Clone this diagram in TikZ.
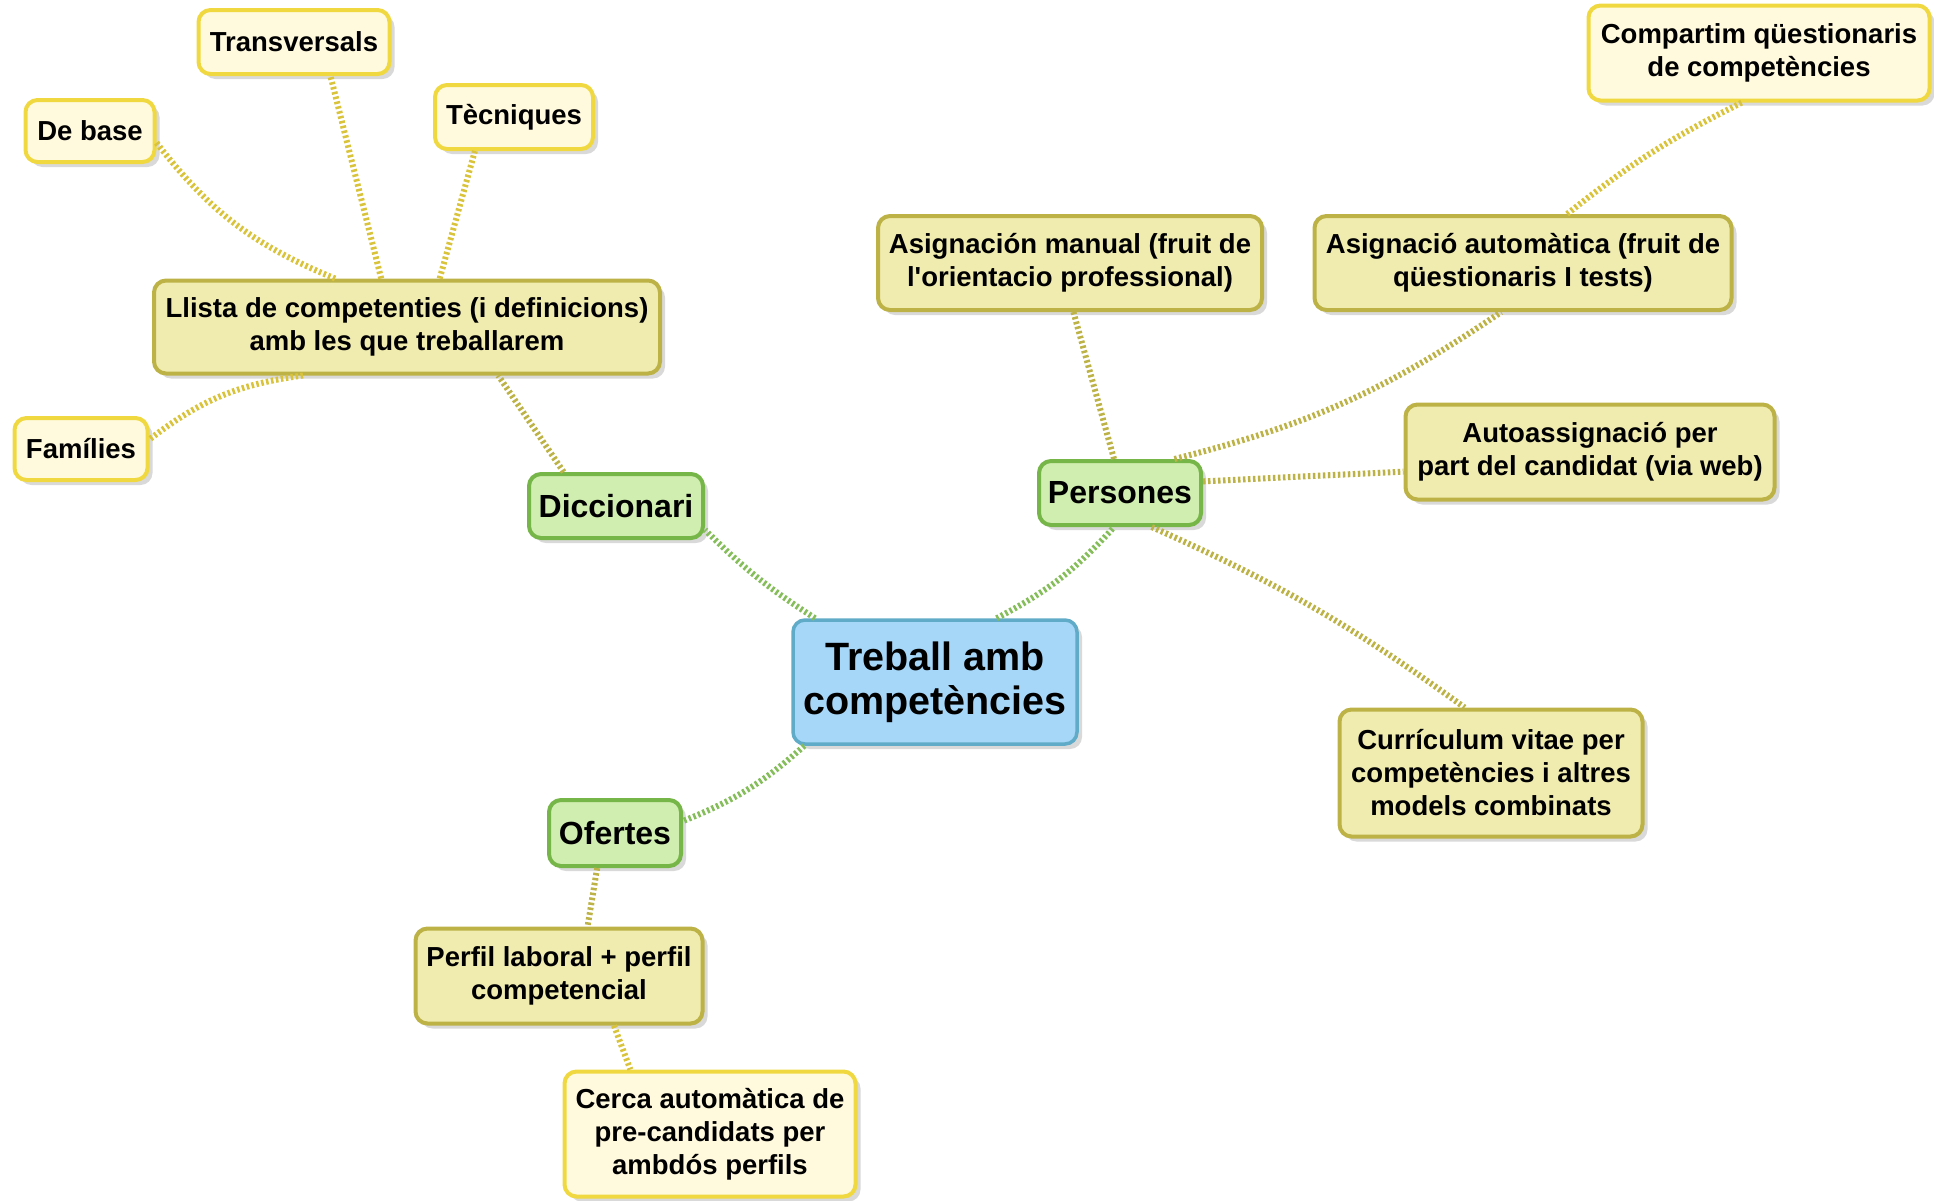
\documentclass[tikz,border=0pt]{standalone}
\usepackage{fontspec}
\setmainfont{Liberation Sans}
\usetikzlibrary{shapes,positioning,calc,shadows}
\definecolor{rootfill}{RGB}{166,215,248}
\definecolor{rootline}{RGB}{96,172,200}
\definecolor{topicfill}{RGB}{208,238,176}
\definecolor{topicline}{RGB}{118,182,72}
\definecolor{subfill}{RGB}{240,236,176}
\definecolor{subline}{RGB}{188,178,70}
\definecolor{leaffill}{RGB}{255,250,222}
\definecolor{leafline}{RGB}{240,217,64}

\begin{document}
\begin{tikzpicture}[x=1pt, y=-1pt,
    box/.style={draw, rectangle, rounded corners=12pt, line width=4pt, align=center, inner sep=0pt,
        font=\bfseries\fontsize{27.5}{33}\selectfont,
        drop shadow={opacity=0.3, shadow xshift=5pt, shadow yshift=-5pt}},
    root/.style={box, fill=rootfill, draw=rootline, line width=3.5pt, font=\bfseries\fontsize{39.5}{44}\selectfont},
    topic/.style={box, fill=topicfill, draw=topicline, font=\bfseries\fontsize{32}{36}\selectfont},
    sub/.style={box, fill=subfill, draw=subline},
    leaf/.style={box, fill=leaffill, draw=leafline},
    link/.style={line width=6pt, dash pattern=on 2.5pt off 2.5pt},
    tlink/.style={link, draw=topicline!90},
    slink/.style={link, draw=subline},
    llink/.style={link, draw=leafline!90!black}]
    \useasboundingbox (0,0) rectangle (1934,1200);

    % centre
    \node[root, minimum width=284pt, minimum height=124pt] (root) at (935,682) {Treball amb\\competències};

    % branques
    \node[topic, minimum width=174pt, minimum height=64pt] (dicc) at (616,506) {Diccionari};
    \node[topic, minimum width=162pt, minimum height=64pt] (pers) at (1120,493) {Persones};
    \node[topic, minimum width=132pt, minimum height=66pt] (ofer) at (615,833) {Ofertes};

    % diccionari
    \node[sub, minimum width=506pt, minimum height=93pt] (llista) at (407,327) {Llista de competenties (i definicions)\\amb les que treballarem};
    \node[leaf, minimum width=191pt, minimum height=64pt] (trans) at (294,42) {Transversals};
    \node[leaf, minimum width=129pt, minimum height=62pt] (debase) at (90,131) {De base};
    \node[leaf, minimum width=158pt, minimum height=64pt] (tecn) at (514,117) {Tècniques};
    \node[leaf, minimum width=133pt, minimum height=62pt] (fam) at (81,449) {Famílies};

    % persones
    \node[sub, minimum width=384pt, minimum height=94pt] (manual) at (1070,263) {Asignación manual (fruit de\\l\textquotesingle orientacio professional)};
    \node[sub, minimum width=417pt, minimum height=94pt] (auto) at (1523,263) {Asignació automàtica (fruit de\\qüestionaris I tests)};
    \node[leaf, minimum width=341pt, minimum height=95pt] (comp) at (1759,53) {Compartim qüestionaris\\de competències};
    \node[sub, minimum width=369pt, minimum height=95pt] (autoas) at (1590,452) {Autoassignació per\\part del candidat (via web)};
    \node[sub, minimum width=303pt, minimum height=127pt] (curr) at (1491,773) {Currículum vitae per\\competències i altres\\models combinats};

    % ofertes
    \node[sub, minimum width=287pt, minimum height=95pt] (perf) at (559,976) {Perfil laboral + perfil\\competencial};
    \node[leaf, minimum width=291pt, minimum height=125pt] (cerca) at (710,1134) {Cerca automàtica de\\pre-candidats per\\ambdós perfils};

    % connexions
    \draw[tlink] (root.152) to[bend left=6] (dicc.-15);
    \draw[tlink] (root.46) to[bend right=10] (pers.-100);
    \draw[tlink] (root.206) to[bend left=10] (ofer.10);
    \draw[slink] (dicc.147) to (llista.-28);
    \draw[llink] (llista.146) to[bend left=15] (debase.-10);
    \draw[llink] (llista.118) to (trans.-43);
    \draw[llink] (llista.56) to (tecn.221);
    \draw[llink] (llista.205) to[bend right=15] (fam.8);
    \draw[slink] (pers.100) to (manual.-86);
    \draw[slink] (pers.32) to[bend right=10] (auto.246);
    \draw[llink] (auto.48) to[bend left=6] (comp.251);
    \draw[slink] (pers.8) to (autoas.186);
    \draw[slink] (pers.-47) to[bend left=6] (curr.112);
    \draw[slink] (ofer.243) to (perf.60);
    \draw[llink] (perf.-42) to (cerca.141);
\end{tikzpicture}
\end{document}
